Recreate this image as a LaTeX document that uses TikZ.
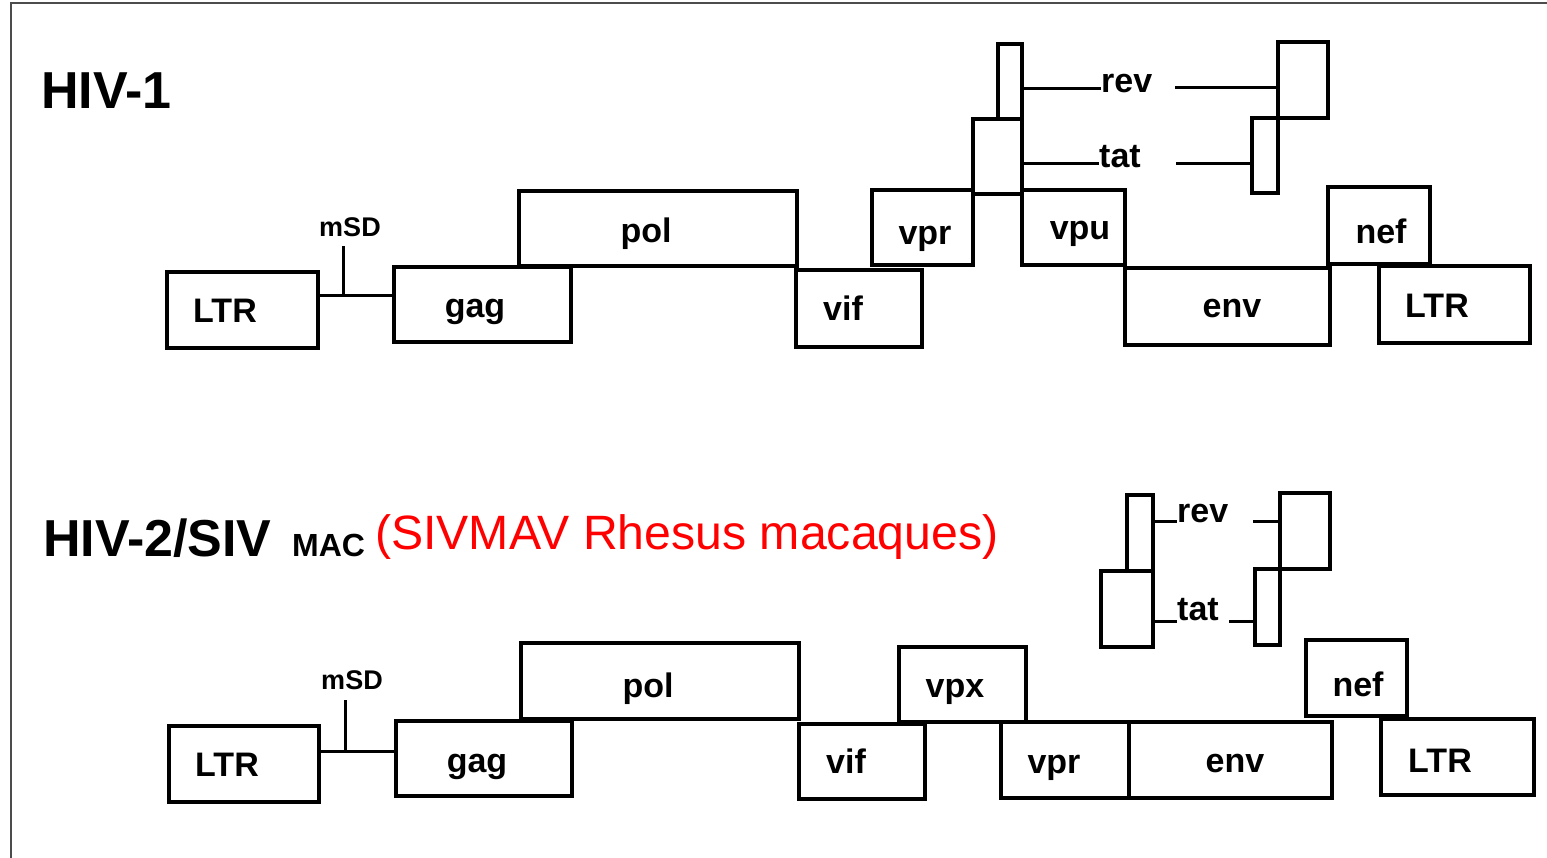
\documentclass[tikz,border=0pt]{standalone}
\usepackage{fontspec}
\setmainfont{Liberation Sans}
\usetikzlibrary{fit}
\begin{document}
\begin{tikzpicture}[x=1pt,y=-1pt,
  gbox/.style={draw, line width=3.2pt, inner sep=0pt},
  glbl/.style={font=\bfseries\fontsize{34}{40}\selectfont, inner sep=0pt, anchor=base},
  glblw/.style={font=\bfseries\fontsize{34}{40}\selectfont, inner sep=0pt, anchor=base west},
  msdlbl/.style={font=\bfseries\fontsize{27}{32}\selectfont, inner sep=0pt, anchor=base},
  conn/.style={line width=3pt},
  framel/.style={line width=2pt, draw=black!70},
  ttl/.style={font=\bfseries\fontsize{52}{58}\selectfont, inner sep=0pt, anchor=base west},
  ttlsmall/.style={font=\bfseries\fontsize{32}{36}\selectfont, inner sep=0pt, anchor=base west},
  redttl/.style={font=\fontsize{48.2}{54}\selectfont, text=red, inner sep=0pt, anchor=base west}]
\useasboundingbox (0,0) rectangle (1547,858);
% frame
\coordinate (frBL) at (11,858);
\coordinate (frTL) at (11,3);
\coordinate (frTR) at (1547,3);
\draw[framel] (frBL) -- (frTL) -- (frTR);

% ---------------- HIV-1 ----------------
\node[ttl] (ttlA) at (41,109) {HIV-1};
\node[gbox, fit={(167,272)(318,348)}] (ltrA) {};
\node[gbox, fit={(394,267)(571,342)}] (gagA) {};
\node[gbox, fit={(519,191)(797,266)}] (polA) {};
\node[gbox, fit={(796,270)(922,347)}] (vifA) {};
\node[gbox, fit={(872,190)(973,265)}] (vprA) {};
\node[gbox, fit={(973,119)(1022,194)}] (tatLA) {};
\node[gbox, fit={(998,44)(1022,119)}] (revLA) {};
\node[gbox, fit={(1022,190)(1125,265)}] (vpuA) {};
\node[gbox, fit={(1125,268)(1330,345)}] (envA) {};
\node[gbox, fit={(1328,187)(1430,264)}] (nefA) {};
\node[gbox, fit={(1379,266)(1530,343)}] (ltrRA) {};
\node[gbox, fit={(1278,42)(1328,118)}] (revRA) {};
\node[gbox, fit={(1252,118)(1278,193)}] (tatRA) {};

\node[glbl] (ltrAt) at (225,323) {LTR};
\node[glbl] (gagAt) at (475,318) {gag};
\node[glbl] (polAt) at (646,243) {pol};
\node[glbl] (vifAt) at (843,321) {vif};
\node[glbl] (vprAt) at (925,245) {vpr};
\node[glbl] (vpuAt) at (1080,240) {vpu};
\node[glbl] (envAt) at (1232,318) {env};
\node[glbl] (nefAt) at (1381,244) {nef};
\node[glbl] (ltrRAt) at (1437,318) {LTR};
\node[glblw] (revtA) at (1101,93) {rev};
\node[glblw] (tattA) at (1099,168) {tat};
\node[msdlbl] (msdA) at (350,237) {mSD};

\coordinate (msdbA) at (343,296);
\coordinate (msdtA) at (343,246);
\draw[conn] (ltrA.east |- msdbA) -- (gagA.west |- msdbA);
\draw[conn] (msdbA) -- (msdtA);
\coordinate (revyA) at (0,89);
\draw[conn] (revLA.east |- revyA) -- (revtA.west |- revyA);
\coordinate (revsA) at (1175,88);
\draw[conn] (revsA) -- (revRA.west |- revsA);
\coordinate (tatyA) at (0,164);
\draw[conn] (tatLA.east |- tatyA) -- (tattA.west |- tatyA);
\coordinate (tatsA) at (1176,164);
\draw[conn] (tatsA) -- (tatRA.west |- tatsA);

% ---------------- HIV-2/SIV ----------------
\node[ttl] (ttlB) at (43,556) {HIV-2/SIV};
\node[ttlsmall] (macB) at (292,556) {MAC};
\node[redttl] (redB) at (375,549) {(SIVMAV Rhesus macaques)};

\node[gbox, fit={(169,726)(319,802)}] (ltrB) {};
\node[gbox, fit={(396,721)(572,796)}] (gagB) {};
\node[gbox, fit={(521,643)(799,719)}] (polB) {};
\node[gbox, fit={(799,724)(925,799)}] (vifB) {};
\node[gbox, fit={(899,647)(1026,722)}] (vpxB) {};
\node[gbox, fit={(1001,722)(1129,798)}] (vprB) {};
\node[gbox, fit={(1129,722)(1332,798)}] (envB) {};
\node[gbox, fit={(1306,640)(1407,716)}] (nefB) {};
\node[gbox, fit={(1381,719)(1534,795)}] (ltrRB) {};
\node[gbox, fit={(1127,495)(1153,571)}] (revLB) {};
\node[gbox, fit={(1101,571)(1153,647)}] (tatLB) {};
\node[gbox, fit={(1280,493)(1330,569)}] (revRB) {};
\node[gbox, fit={(1255,569)(1280,645)}] (tatRB) {};

\node[glbl] (ltrBt) at (227,776) {LTR};
\node[glbl] (gagBt) at (477,772) {gag};
\node[glbl] (polBt) at (648,697) {pol};
\node[glbl] (vifBt) at (846,773) {vif};
\node[glbl] (vpxBt) at (955,697) {vpx};
\node[glbl] (vprBt) at (1054,773) {vpr};
\node[glbl] (envBt) at (1235,772) {env};
\node[glbl] (nefBt) at (1358,696) {nef};
\node[glbl] (ltrRBt) at (1440,772) {LTR};
\node[glblw] (revtB) at (1177,522) {rev};
\node[glblw] (tattB) at (1177,620) {tat};
\node[msdlbl] (msdB) at (352,689) {mSD};

\coordinate (msdbB) at (345,751);
\coordinate (msdtB) at (345,700);
\draw[conn] (ltrB.east |- msdbB) -- (gagB.west |- msdbB);
\draw[conn] (msdbB) -- (msdtB);
\coordinate (revyB) at (0,521);
\draw[conn] (revLB.east |- revyB) -- (revtB.west |- revyB);
\coordinate (revsB) at (1253,521);
\draw[conn] (revsB) -- (revRB.west |- revsB);
\coordinate (tatyB) at (0,621);
\draw[conn] (tatLB.east |- tatyB) -- (tattB.west |- tatyB);
\coordinate (tatsB) at (1229,621);
\draw[conn] (tatsB) -- (tatRB.west |- tatsB);
\end{tikzpicture}
\end{document}
